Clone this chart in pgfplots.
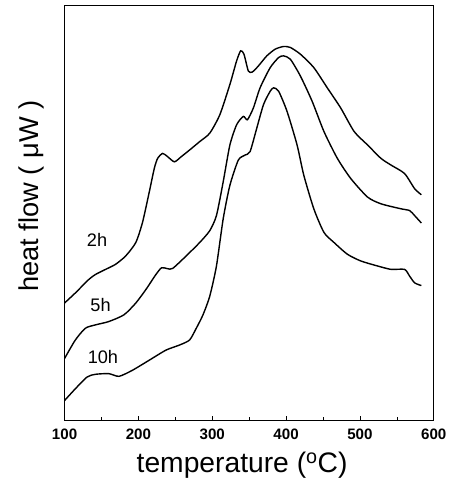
\documentclass[border={15bp 0pt 3bp 5bp}]{standalone}
\usepackage{pgfplots}
\pgfplotsset{compat=1.18}
\usepackage{fontspec}
\setmainfont{Liberation Sans}
\begin{document}
\begin{tikzpicture}
\begin{axis}[
  scale only axis,
  width=366bp, height=411bp,
  xmin=100, xmax=600, ymin=0, ymax=1233,
  xtick={100,200,300,400,500,600},
  minor xtick={150,250,350,450,550},
  ytick=\empty,
  xtick pos=bottom,
  tick align=inside,
  major tick length=4bp, minor tick length=3bp,
  axis line style={line width=0.8pt},
  tick style={line width=0.6pt, black},
  /pgf/number format/assume math mode=true,
  /pgf/number format/1000 sep={},
  xticklabel style={font=\fontsize{15bp}{17bp}\selectfont\bfseries, yshift=-5bp},
  xlabel={temperature ($^{\mathrm{o}}$C)},
  ylabel={heat flow ( μW )},
  xlabel style={font=\fontsize{28bp}{30bp}\selectfont, yshift=-6bp, xshift=-7bp},
  ylabel style={font=\fontsize{27bp}{30bp}\selectfont, at={(ticklabel cs:0.54)}},
  ylabel shift=17bp,
]
\addplot[black, line width=1.4pt, no marks, smooth, tension=0.4] coordinates {(100,348)(114.6,378)(132.8,418)(141.9,433)(155.5,448)(169,463)(182.8,488)(196.5,528)(205.6,588)(214.7,678)(221.5,748)(226,778)(232.9,793)(239.7,783)(248.8,768)(257.9,783)(269.3,803)(283,828)(296.6,853)(310.3,908)(323.9,998)(333,1068)(338.5,1098)(343,1088)(348.9,1038)(354.3,1035)(362.5,1053)(373.9,1083)(385.3,1103)(396.7,1111)(405.8,1108)(419.4,1088)(437.6,1048)(455.8,988)(474,928)(492.2,858)(510.4,818)(528.6,778)(542.3,758)(560.5,733)(574.1,688)(583.2,670)};
\addplot[black, line width=1.4pt, no marks, smooth, tension=0.4] coordinates {(100,183)(114.6,238)(128.2,273)(141.9,283)(160,293)(180.5,313)(196.5,348)(210.1,388)(223.8,433)(231.5,453)(239.7,450)(246.5,451)(264.7,488)(283,528)(296.6,563)(305.7,608)(314.8,708)(323.9,818)(333,878)(342.1,903)(347.6,893)(355.7,928)(364.8,988)(378.5,1048)(389.9,1078)(396.7,1083)(405.8,1073)(419.4,1023)(435.3,948)(451.3,858)(469.5,778)(487.7,718)(510.4,663)(528.6,643)(556,628)(567.3,623)(574.1,608)(583.2,586)};
\addplot[black, line width=1.4pt, no marks, smooth, tension=0.4] coordinates {(100,58)(114.6,93)(130.5,128)(141.9,136)(160,138)(173.7,130)(191.9,148)(214.7,178)(237.4,208)(255.6,223)(269.3,238)(278.4,273)(287.5,313)(296.6,368)(305.7,458)(314.8,598)(323.9,698)(335.3,773)(344.4,788)(351.2,798)(360.3,868)(369.4,938)(378.5,978)(383.1,988)(389.9,978)(401.3,918)(414.9,818)(424,728)(437.6,628)(451.3,558)(464.9,528)(483.1,493)(501.3,473)(524.1,458)(542.3,448)(560.5,448)(567.3,428)(574.1,408)(583.2,400)};
\node[font=\fontsize{18bp}{20bp}\selectfont] at (axis cs:144,536) {2h};
\node[font=\fontsize{18bp}{20bp}\selectfont] at (axis cs:148.7,343) {5h};
\node[font=\fontsize{18bp}{20bp}\selectfont] at (axis cs:152,188) {10h};
\end{axis}
\end{tikzpicture}
\end{document}
